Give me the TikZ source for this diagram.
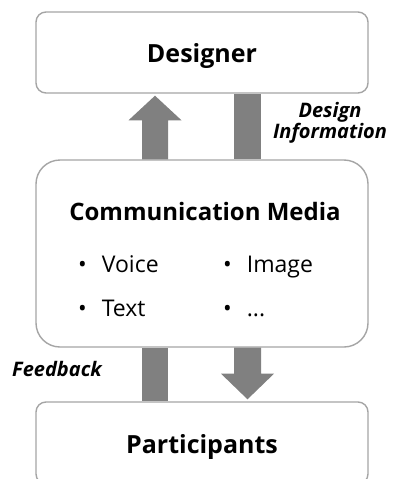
\documentclass[tikz,border=0pt]{standalone}
\usepackage{fontspec}
\setmainfont{Open Sans}
\usetikzlibrary{calc}

\definecolor{framegray}{RGB}{165,165,165}
\definecolor{flowgray}{RGB}{128,128,128}

\begin{document}
\begin{tikzpicture}[x=1pt, y=1pt,
        box/.style={draw=framegray, line width=1.4pt, rounded corners=10pt, fill=none},
        flow/.style={fill=flowgray, draw=none},
        title/.style={font=\bfseries\fontsize{25}{28}\selectfont, anchor=base, inner sep=0pt},
        item/.style={font=\fontsize{23}{26}\selectfont, anchor=base west, inner sep=0pt},
        tag/.style={font=\bfseries\itshape\fontsize{20}{16.5}\selectfont, align=center}]
        % Page size of the figure
        \useasboundingbox (0,0) rectangle (392,-479);

        % Boxes
        \node[box, minimum width=332pt, minimum height=81pt] (designer) at (202,-52.5) {};
        \node[box, rounded corners=24pt, minimum width=332pt, minimum height=187pt] (media) at (202,-253.5) {};
        \node[box, minimum width=332pt, minimum height=82pt] (participants) at (202,-443) {};

        % Box texts
        \node[title] (designertext) at (202,-62) {Designer};
        \node[title, font=\bfseries\fontsize{24}{28}\selectfont] (mediatext) at (205,-220) {Communication Media};
        \node[title] (participantstext) at (202,-453) {Participants};

        % Media items
        \node[item] (voice) at (78,-272) {\textbullet\hspace{15pt}Voice};
        \node[item] (image) at (223,-272) {\textbullet\hspace{15pt}Image};
        \node[item] (text) at (78,-316) {\textbullet\hspace{15pt}Text};
        \node[item] (more) at (223,-316) {\textbullet\hspace{15pt}...};

        % Arrow up to designer
        \coordinate (upfoot) at ($(media.north)+(-47,0)$);
        \fill[flow] ($(upfoot)+(-13,0)$) -- ++(0,39) -- ++(-13.5,0)
            -- ($(designer.south)+(-47,-2)$) -- ($(upfoot)+(26.5,39)$)
            -- ++(-13.5,0) -- ($(upfoot)+(13,0)$) -- cycle;

        % Bar from designer (design information)
        \fill[flow] ($(designer.south)+(32,0)$) rectangle ($(media.north)+(59,0)$);
        \node[tag] (info) at (330,-123) {Design\\Information};

        % Bar from participants (feedback)
        \fill[flow] ($(media.south)+(-60,0)$) rectangle ($(participants.north)+(-34,0)$);
        \node[tag, anchor=west, inner sep=0pt] (feedback) at (12,-369) {Feedback};

        % Arrow down to participants
        \coordinate (downfoot) at ($(media.south)+(45.5,0)$);
        \fill[flow] ($(downfoot)+(-13.5,0)$) -- ++(0,-26) -- ++(-13,0)
            -- ($(participants.north)+(45.5,2)$) -- ($(downfoot)+(26.5,-26)$)
            -- ++(-13,0) -- ($(downfoot)+(13.5,0)$) -- cycle;
\end{tikzpicture}
\end{document}
